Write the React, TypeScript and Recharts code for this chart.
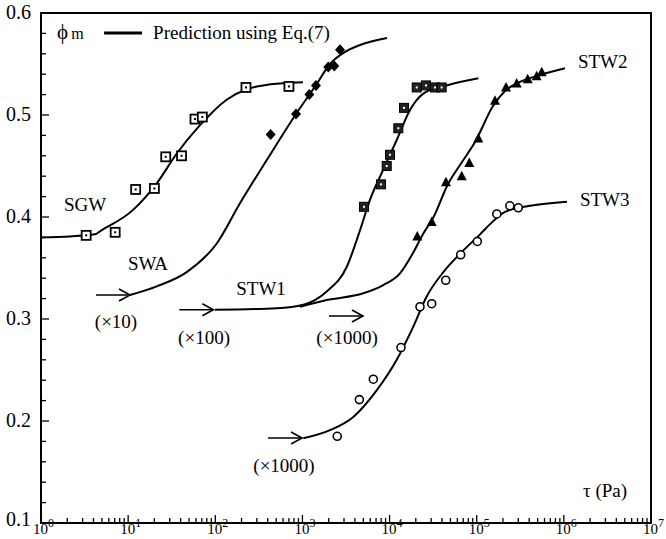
import { ComposedChart, Line, Scatter, XAxis, YAxis, ReferenceArea, ReferenceDot } from "recharts";

// measured points (tau in Pa, phi_m)
const sgwTau = [3.3, 7.1, 12.2, 20, 27, 41, 58.5, 71, 225, 700];
const sgwPhi = [0.382, 0.385, 0.427, 0.428, 0.459, 0.46, 0.496, 0.498, 0.527, 0.528];
const swaTau = [432, 844, 1200, 1430, 1980, 2320, 2700];
const swaPhi = [0.481, 0.501, 0.52, 0.529, 0.547, 0.548, 0.564];
const stw1Tau = [5090, 7980, 9270, 10120, 12600, 14650, 20480, 26180, 33200, 39600];
const stw1Phi = [0.41, 0.432, 0.45, 0.461, 0.487, 0.507, 0.527, 0.529, 0.527, 0.527];
const stw2Tau = [20800, 30470, 44400, 67300, 82200, 104300, 162000, 216800, 287600, 384600, 487700, 557000];
const stw2Phi = [0.381, 0.395, 0.434, 0.44, 0.453, 0.477, 0.514, 0.527, 0.531, 0.535, 0.538, 0.542];
const stw3Tau = [2510, 4500, 6510, 13520, 22340, 30470, 44100, 65500, 101600, 170000, 240000, 300000];
const stw3Phi = [0.185, 0.221, 0.241, 0.272, 0.312, 0.315, 0.338, 0.363, 0.376, 0.403, 0.411, 0.409];

// prediction curves, Eq.(7)
const sgwFitTau = [1, 2.15, 4.17, 4.75, 11.4, 21.3, 36, 66.8, 135, 225, 353, 1016];
const sgwFitPhi = [0.38, 0.381, 0.383, 0.386, 0.407, 0.433, 0.462, 0.49, 0.515, 0.525, 0.529, 0.532];
const swaFitTau = [10.5, 21.3, 47, 104, 192, 403, 844, 1432, 2070, 3080, 4580, 9350];
const swaFitPhi = [0.3235, 0.332, 0.346, 0.374, 0.4134, 0.4578, 0.501, 0.5294, 0.55, 0.5618, 0.5686, 0.5755];
const stw1FitTau = [99, 507, 1024, 1900, 3220, 4580, 5970, 8410, 12080, 17170, 24400, 45300, 104300];
const stw1FitPhi = [0.309, 0.3105, 0.314, 0.327, 0.351, 0.387, 0.417, 0.446, 0.4755, 0.505, 0.521, 0.529, 0.536];
const stw2FitTau = [938, 1900, 5000, 8470, 13180, 18580, 24200, 31500, 46900, 67800, 95700, 153800, 211300, 314000, 532000, 1030000];
const stw2FitPhi = [0.312, 0.3186, 0.3252, 0.3333, 0.3448, 0.3647, 0.3833, 0.399, 0.4324, 0.4539, 0.4735, 0.5088, 0.5235, 0.5324, 0.5392, 0.5458];
const stw3FitTau = [1024, 2073, 3838, 7110, 12080, 18720, 26650, 41400, 64300, 109200, 142200, 211000, 409000, 1087000];
const stw3FitPhi = [0.183, 0.191, 0.204, 0.23, 0.26, 0.2925, 0.322, 0.346, 0.364, 0.383, 0.393, 0.405, 0.411, 0.415];

const xMajor = [1, 10, 100, 1000, 10000, 100000, 1000000, 10000000];
const yMajor = [0.1, 0.2, 0.3, 0.4, 0.5, 0.6];

const xTicks: number[] = [];
xMajor.forEach((d, i) => {
  xTicks.push(d);
  if (i < xMajor.length - 1) for (let k = 2; k <= 9; k++) xTicks.push(d * k);
});
const yTicks: number[] = [];
for (let i = 0; i <= 25; i++) yTicks.push(Math.round((0.1 + i * 0.02) * 100) / 100);

const zip = (xs: number[], ys: number[]) => xs.map((x, i) => ({ x, y: ys[i] }));

const serif = { fontFamily: "'Liberation Serif', 'Times New Roman', 'DejaVu Serif', serif" };

const XTick = (props: any) => {
  const { x, y, payload } = props;
  const v = payload.value;
  const exp = Math.round(Math.log10(v));
  const major = xMajor.includes(v);
  return (
    <g>
      <line x1={x} x2={x} y1={y} y2={y - (major ? 8 : 5)} stroke="#000" strokeWidth={1.3} />
      {major && (
        <text x={x - 8} y={y + 11} textAnchor="start" fontSize={15} style={serif} fill="#000">
          10<tspan dy={-7} fontSize={12}>{exp}</tspan>
        </text>
      )}
    </g>
  );
};

const YTick = (props: any) => {
  const { x, y, payload } = props;
  const v = payload.value;
  const major = yMajor.some((m) => Math.abs(m - v) < 1e-6);
  return (
    <g>
      <line x1={x} x2={x + (major ? 8 : 5)} y1={y} y2={y} stroke="#000" strokeWidth={1.3} />
      {major && (
        <text x={x - 10} y={y + (v < 0.15 ? 3 : 6)} textAnchor="end" fontSize={20} style={serif} fill="#000">
          {v.toFixed(1)}
        </text>
      )}
    </g>
  );
};

const OpenSquare = (p: any) => (
  <g>
    <rect x={p.cx - 4.5} y={p.cy - 4.5} width={9} height={9} fill="#fff" stroke="#000" strokeWidth={1.8} />
    <rect x={p.cx - 1} y={p.cy - 1} width={2} height={2} fill="#000" />
  </g>
);
const Diamond = (p: any) => (
  <path d={`M${p.cx},${p.cy - 5.5}L${p.cx + 5},${p.cy}L${p.cx},${p.cy + 5.5}L${p.cx - 5},${p.cy}Z`} fill="#000" />
);
const CrossSquare = (p: any) => (
  <g>
    <rect x={p.cx - 4.5} y={p.cy - 4.5} width={9} height={9} fill="#222" stroke="#000" strokeWidth={1} />
    <rect x={p.cx - 1} y={p.cy - 1} width={2} height={2} fill="#fff" />
  </g>
);
const Triangle = (p: any) => (
  <path d={`M${p.cx},${p.cy - 5.5}L${p.cx + 5},${p.cy + 4}L${p.cx - 5},${p.cy + 4}Z`} fill="#000" />
);
const Circle = (p: any) => <circle cx={p.cx} cy={p.cy} r={4} fill="#fff" stroke="#000" strokeWidth={1.6} />;

const arrow = (p: any) => (
  <g fill="none" stroke="#000" strokeWidth={1.6}>
    <line x1={p.cx - 34} y1={p.cy} x2={p.cx} y2={p.cy} />
    <path d={`M${p.cx - 11},${p.cy - 6}L${p.cx},${p.cy}L${p.cx - 11},${p.cy + 6}`} />
  </g>
);
const label = (txt: string, anchor: "start" | "middle" = "middle") => (p: any) => (
  <text x={p.cx} y={p.cy} textAnchor={anchor} fontSize={19} style={serif} fill="#000">
    {txt}
  </text>
);
const legend = (p: any) => (
  <g style={serif} fill="#000">
    <text x={p.cx} y={p.cy} fontSize={21}>
      ϕ<tspan dx={3} fontSize={16}>m</tspan>
    </text>
    <line x1={p.cx + 47} x2={p.cx + 85} y1={p.cy - 6} y2={p.cy - 6} stroke="#000" strokeWidth={3} />
    <text x={p.cx + 96} y={p.cy} fontSize={19}>Prediction using Eq.(7)</text>
  </g>
);

const annotations = [
  { x: 10.5, y: 0.3235, shape: arrow },
  { x: 95, y: 0.309, shape: arrow },
  { x: 4950, y: 0.303, shape: arrow },
  { x: 990, y: 0.1833, shape: arrow },
  { x: 3.2, y: 0.406, shape: label("SGW") },
  { x: 16.9, y: 0.348, shape: label("SWA") },
  { x: 335, y: 0.3235, shape: label("STW1") },
  { x: 1450000, y: 0.546, shape: label("STW2", "start") },
  { x: 1530000, y: 0.4108, shape: label("STW3", "start") },
  { x: 7.26, y: 0.291, shape: label("(×10)") },
  { x: 74.3, y: 0.2755, shape: label("(×100)") },
  { x: 3250, y: 0.2755, shape: label("(×1000)") },
  { x: 615, y: 0.15, shape: label("(×1000)") },
  { x: 1660000, y: 0.1255, shape: label("τ  (Pa)", "start") },
  { x: 1.53, y: 0.5745, shape: legend },
];

const series = [
  { fit: zip(sgwFitTau, sgwFitPhi), pts: zip(sgwTau, sgwPhi), shape: OpenSquare, name: "SGW" },
  { fit: zip(swaFitTau, swaFitPhi), pts: zip(swaTau, swaPhi), shape: Diamond, name: "SWA" },
  { fit: zip(stw1FitTau, stw1FitPhi), pts: zip(stw1Tau, stw1Phi), shape: CrossSquare, name: "STW1" },
  { fit: zip(stw2FitTau, stw2FitPhi), pts: zip(stw2Tau, stw2Phi), shape: Triangle, name: "STW2" },
  { fit: zip(stw3FitTau, stw3FitPhi), pts: zip(stw3Tau, stw3Phi), shape: Circle, name: "STW3" },
];

export default function App() {
  return (
    <div style={{ position: "absolute", left: 0, top: 0, background: "#fff" }}>
      <ComposedChart width={666} height={539} margin={{ top: 13, right: 15, bottom: 0, left: 0 }}>
        <XAxis
          dataKey="x"
          type="number"
          scale="log"
          domain={[1, 10000000]}
          ticks={xTicks}
          interval={0}
          tick={<XTick />}
          tickLine={false}
          tickSize={0}
          tickMargin={0}
          height={16}
          axisLine={{ stroke: "#000", strokeWidth: 2 }}
          allowDataOverflow
        />
        <YAxis
          dataKey="y"
          type="number"
          domain={[0.1, 0.6]}
          ticks={yTicks}
          interval={0}
          tick={<YTick />}
          tickLine={false}
          tickSize={0}
          tickMargin={0}
          width={41}
          axisLine={{ stroke: "#000", strokeWidth: 2 }}
          allowDataOverflow
        />
        <ReferenceArea x1={1} x2={10000000} y1={0.1} y2={0.6} fill="none" stroke="#000" strokeWidth={2} />
        {series.map((s) => (
          <Line
            key={s.name + "fit"}
            data={s.fit}
            dataKey="y"
            type="monotone"
            dot={false}
            stroke="#000"
            strokeWidth={2}
            isAnimationActive={false}
          />
        ))}
        {series.map((s) => (
          <Scatter key={s.name} data={s.pts} dataKey="y" shape={s.shape} isAnimationActive={false} />
        ))}
        {annotations.map((a, i) => (
          <ReferenceDot key={i} x={a.x} y={a.y} r={0} shape={a.shape} ifOverflow="visible" />
        ))}
      </ComposedChart>
    </div>
  );
}
